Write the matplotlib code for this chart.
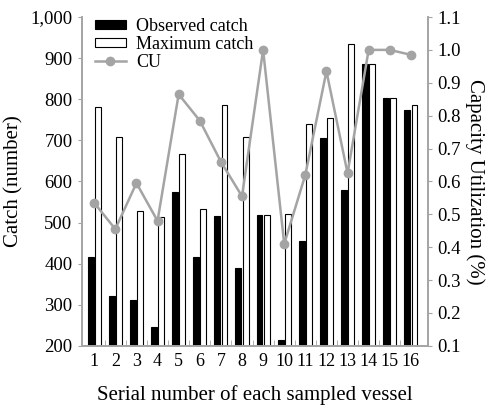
import matplotlib.pyplot as plt
import numpy as np

# Data
vessels = list(range(1, 17))
observed = [415, 322, 312, 245, 575, 415, 517, 390, 518, 215, 455, 705, 580, 885, 803, 773]
maximum = [780, 707, 527, 513, 667, 533, 787, 707, 518, 520, 740, 755, 935, 885, 803, 787]
cu = [0.535, 0.455, 0.595, 0.48, 0.865, 0.785, 0.66, 0.555, 1.0, 0.41,
      0.62, 0.935, 0.625, 1.0, 1.0, 0.985]

GRAY = '#a4a4a4'
plt.rcParams['font.family'] = ['Liberation Serif', 'DejaVu Serif']

fig = plt.figure(figsize=(4.98, 4.05), dpi=100)
ax = fig.add_axes([0.165, 0.146, 0.694, 0.812])
ax2 = ax.twinx()

x = np.array(vessels)
w = 0.28
b1 = ax.bar(x - 0.17, observed, w, color='black', edgecolor='black', linewidth=0.8,
            label='Observed catch')
b2 = ax.bar(x + 0.17, maximum, w, color='white', edgecolor='black', linewidth=0.8,
            label='Maximum catch')
ln, = ax2.plot(x, cu, color=GRAY, lw=1.8, marker='o', ms=6, label='CU')

ax.set_xlim(0.43, 16.8)
ax.set_ylim(200, 1000)
ax2.set_ylim(0.1, 1.1)
ax.set_yticks(range(200, 1001, 100))
ax.set_yticklabels(['200', '300', '400', '500', '600', '700', '800', '900', '1,000'])
ax2.set_yticks(np.arange(0.1, 1.11, 0.1))
ax2.set_yticklabels([f'{v:.1f}' for v in np.arange(0.1, 1.11, 0.1)])
ax.set_xticks(vessels)
ax.set_xticks(np.arange(1.5, 16, 1), minor=True)

for a in (ax, ax2):
    for s in a.spines.values():
        s.set_color(GRAY)
        s.set_linewidth(1.2)
    a.spines['top'].set_visible(False)
ax.tick_params(axis='x', which='major', length=0, labelsize=13, pad=5)
ax.tick_params(axis='x', which='minor', direction='in', length=4, color=GRAY)
ax.tick_params(axis='y', length=3, color=GRAY, labelsize=13.5, pad=4)
ax2.tick_params(axis='y', length=3, color=GRAY, labelsize=13.5, pad=4)

ax.set_xlabel('Serial number of each sampled vessel', fontsize=15, labelpad=11)
ax.set_ylabel('Catch (number)', fontsize=15, labelpad=5)
ax2.set_ylabel('Capacity Utilization (%)', fontsize=15, rotation=270, labelpad=17)

ax2.legend([b1, b2, ln], ['Observed catch', 'Maximum catch', 'CU'], loc='upper left',
           bbox_to_anchor=(0.0, 1.035), frameon=False, fontsize=13, handlelength=1.7,
           handleheight=0.4, labelspacing=0.05, handletextpad=0.6, borderaxespad=0.3)

fig.savefig('out.png', dpi=100)
